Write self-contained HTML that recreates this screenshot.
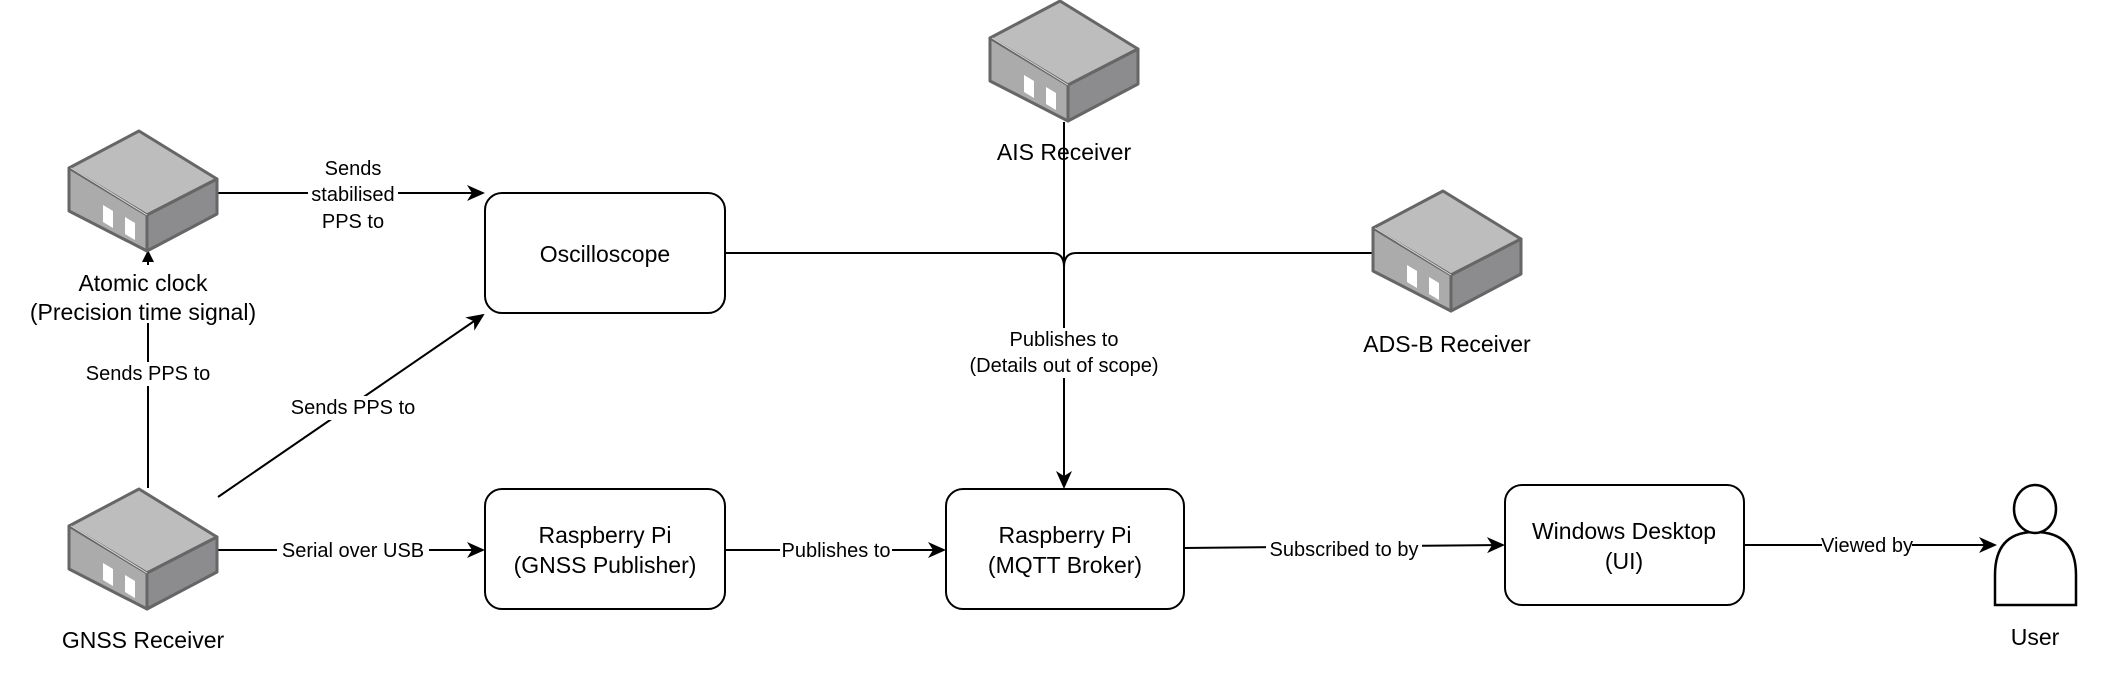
<!DOCTYPE html>
<html><head><meta charset="utf-8"><style>
html,body{margin:0;padding:0;background:#fff;}
svg{display:block;}
text{font-family:"Liberation Sans",Arial,sans-serif;fill:#000;}
.n{font-size:23px;}
.e{font-size:20px;}
</style></head><body>
<svg width="2112" height="687" viewBox="0 0 2112 687" xmlns="http://www.w3.org/2000/svg">
<defs>
<marker id="a" markerWidth="12" markerHeight="12" refX="11" refY="6" orient="auto" markerUnits="userSpaceOnUse" viewBox="0 0 12 12">
<path d="M0,0 L12,6 L0,12 Z" fill="#000"/>
</marker>
<marker id="as" markerWidth="18" markerHeight="16" refX="16" refY="8" orient="auto" markerUnits="userSpaceOnUse" viewBox="0 0 18 16">
<path d="M0,0 L18,8 L0,16 L5,8 Z" fill="#000"/>
</marker>
<g id="dev">
<path d="M70,0 L148,48 L78,84 L0,37 Z" fill="#bdbdbe" stroke="#666" stroke-width="3" stroke-linejoin="round"/>
<path d="M0,37 L78,84 L78,120 L0,80 Z" fill="#ababac" stroke="#666" stroke-width="3" stroke-linejoin="round"/>
<path d="M78,84 L148,48 L148,83 L78,120 Z" fill="#8c8c8f" stroke="#666" stroke-width="3" stroke-linejoin="round"/>
<path d="M2,37 L78,84" stroke="#ddd" stroke-width="1" fill="none"/>
<path d="M34,74 L44,80 L44,97 L34,91 Z" fill="#fff"/>
<path d="M56,86 L66,92 L66,109 L56,103 Z" fill="#fff"/>
</g>
</defs>

<g stroke="#000" stroke-width="2" fill="none">
<line x1="217" y1="193" x2="483" y2="193" marker-end="url(#as)"/>
<line x1="148" y1="488" x2="148" y2="251" marker-end="url(#a)"/>
<line x1="218" y1="497" x2="483" y2="315" marker-end="url(#as)"/>
<line x1="217" y1="550" x2="483" y2="550" marker-end="url(#as)"/>
<line x1="725" y1="550" x2="944" y2="550" marker-end="url(#as)"/>
<line x1="1184" y1="548" x2="1503" y2="545" marker-end="url(#as)"/>
<line x1="1744" y1="545" x2="1995" y2="545" marker-end="url(#as)"/>
<path d="M725,253 L1052,253 Q1064,253 1064,267"/>
<path d="M1373,253 L1076,253 Q1064,253 1064,267"/>
<line x1="1064" y1="122" x2="1064" y2="487" marker-end="url(#as)"/>
</g>

<use href="#dev" x="69" y="131"/>
<use href="#dev" x="69" y="489"/>
<use href="#dev" x="990" y="1"/>
<use href="#dev" x="1373" y="191"/>

<g fill="#fff" stroke="#000" stroke-width="2">
<rect x="485" y="193" width="240" height="120" rx="17"/>
<rect x="485" y="489" width="240" height="120" rx="17"/>
<rect x="946" y="489" width="238" height="120" rx="17"/>
<rect x="1505" y="485" width="239" height="120" rx="17"/>
</g>

<g fill="#fff" stroke="#000" stroke-width="2.5">
<path d="M1995,605 L1995,575 Q1995,532 2035,532 Q2076,532 2076,575 L2076,605 Z"/>
<ellipse cx="2035" cy="509" rx="21" ry="24"/>
</g>

<g fill="#fff">
<rect x="20" y="265" width="250" height="58"/>
<rect x="308" y="157" width="90" height="74"/>
<rect x="82" y="362" width="132" height="24"/>
<rect x="288" y="396" width="130" height="24"/>
<rect x="277" y="539" width="152" height="22"/>
<rect x="780" y="539" width="112" height="22"/>
<rect x="1266" y="538" width="156" height="22"/>
<rect x="1822" y="534" width="90" height="22"/>
<rect x="962" y="328" width="204" height="50"/>
</g>

<g class="n" text-anchor="middle">
<text x="143" y="291">Atomic clock</text>
<text x="143" y="320">(Precision time signal)</text>
<text x="143" y="648">GNSS Receiver</text>
<text x="1064" y="160">AIS Receiver</text>
<text x="1447" y="352">ADS-B Receiver</text>
<text x="2035" y="645">User</text>
<text x="605" y="262">Oscilloscope</text>
<text x="605" y="543">Raspberry Pi</text>
<text x="605" y="573">(GNSS Publisher)</text>
<text x="1065" y="543">Raspberry Pi</text>
<text x="1065" y="573">(MQTT Broker)</text>
<text x="1624" y="539">Windows Desktop</text>
<text x="1624" y="569">(UI)</text>
</g>

<g class="e" text-anchor="middle">
<text x="353" y="175">Sends</text>
<text x="353" y="201">stabilised</text>
<text x="353" y="228">PPS to</text>
<text x="148" y="380">Sends PPS to</text>
<text x="353" y="414">Sends PPS to</text>
<text x="353" y="557">Serial over USB</text>
<text x="836" y="557">Publishes to</text>
<text x="1344" y="556">Subscribed to by</text>
<text x="1867" y="552">Viewed by</text>
<text x="1064" y="346">Publishes to</text>
<text x="1064" y="372">(Details out of scope)</text>
</g>
</svg>
</body></html>
